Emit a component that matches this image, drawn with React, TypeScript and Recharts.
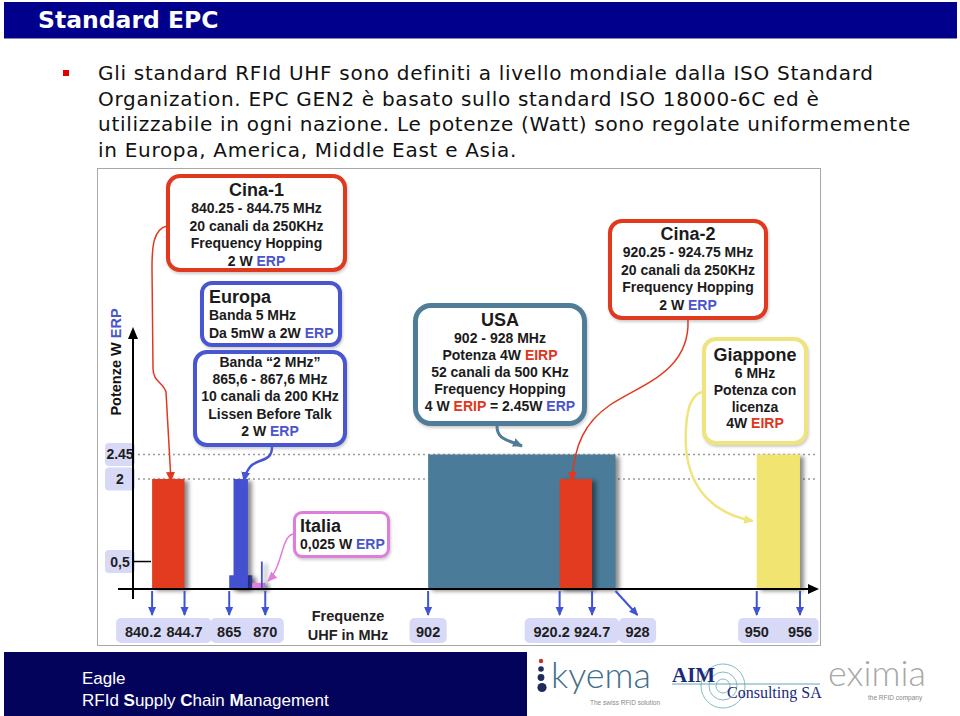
import React from "react";
import { ComposedChart, Area, XAxis, YAxis, CartesianGrid } from "recharts";

// frequency bands: start / end in MHz, power in W ERP (as drawn)
const BAND_NAMES = ["USA", "Cina-2", "Cina-1", "Europa 5 MHz", "Europa LBT", "Italia", "Europa 869.4", "Giappone"];
const BAND_START = [902, 920.25, 840.25, 865, 865.6, 868.2, 869.4, 950];
const BAND_END = [928, 924.75, 844.75, 868.2, 867.6, 870, 869.65, 956];
const BAND_POWER = [2.45, 2, 2, 0.25, 2, 0.11, 0.5, 2.45];

const FREQ_TICKS = [840.25, 844.75, 865, 870, 902, 920.25, 924.75, 928, 950, 956];
const FREQ_TICK_LABELS = ["840.2", "844.7", "865", "870", "902", "920.2", "924.7", "928", "950", "956"];
const FREQ_TICK_GROUP = [0, 0, 1, 1, 2, 3, 3, 4, 5, 5];

const POWER_TICKS = [0.5, 2, 2.45];
const POWER_TICK_LABELS = ["0,5", "2", "2.45"];
const POWER_GRID = [2, 2.45];

const BAND_COLORS: Record<string, string> = {
  USA: "#4a7b98",
  "Cina-2": "#e23b1f",
  "Cina-1": "#e23b1f",
  "Europa 5 MHz": "#4351d0",
  "Europa LBT": "#4351d0",
  Italia: "#e47de0",
  "Europa 869.4": "#4351d0",
  Giappone: "#f1e470",
};

// broken frequency axis: empty stretches are squeezed
const AXIS_BREAKS = [
  { from: 844.75, to: 865, span: 6.2 },
  { from: 870, to: 902, span: 22.6 },
  { from: 928, to: 950, span: 19.6 },
];
const toAxis = (f: number) => {
  let shift = 0;
  for (const b of AXIS_BREAKS) {
    const len = b.to - b.from;
    if (f >= b.to) shift += len - b.span;
    else if (f > b.from) shift += (f - b.from) * (1 - b.span / len);
  }
  return f - shift;
};
const X_DOMAIN = [toAxis(837.6), toAxis(958.5)];

const CHART_W = 722;
const CHART_H = 476;
const Y_AXIS_W = 35;
const X_AXIS_H = 56;
const MARGIN = { top: 159, right: 2, bottom: 0, left: 0 };
const PLOT_W = CHART_W - Y_AXIS_W - MARGIN.right;
const BASE_Y = CHART_H - X_AXIS_H;
const PX_PER_UNIT = PLOT_W / (X_DOMAIN[1] - X_DOMAIN[0]);

const LAVENDER = "#d7d9f6";
const TICK_BLUE = "#3f53d6";
const ERP_BLUE = "#4a55cc";
const EIRP_RED = "#e0341c";
const SANS = '"Liberation Sans", Arial, Helvetica, sans-serif';
const VERDANA = '"DejaVu Sans", Verdana, sans-serif';

const LABEL_NUDGE: Record<string, number> = { "840.2": -9, "920.2": -8, "928": 22 };
const halfWidth = (s: string) => s.length * 4.2 + 6;

const FreqTick = (props: any) => {
  const { x, index } = props;
  const label = FREQ_TICK_LABELS[index];
  const nudge = LABEL_NUDGE[label] ?? 0;
  const lx = x + nudge;
  const arrowX = nudge > 10 ? lx : x;
  const group = FREQ_TICK_GROUP[index];
  let box = null;
  if (FREQ_TICK_GROUP.indexOf(group) === index) {
    const last = FREQ_TICK_GROUP.lastIndexOf(group);
    const lastLabel = FREQ_TICK_LABELS[last];
    const lastX = x + (toAxis(FREQ_TICKS[last]) - toAxis(FREQ_TICKS[index])) * PX_PER_UNIT + (LABEL_NUDGE[lastLabel] ?? 0);
    const x0 = lx - halfWidth(label);
    const x1 = lastX + halfWidth(lastLabel);
    box = <rect x={x0} y={BASE_Y + 29} width={x1 - x0} height={25} rx={5} fill={LAVENDER} />;
  }
  return (
    <g>
      <line x1={x} y1={BASE_Y + 2} x2={arrowX} y2={BASE_Y + 26} stroke={TICK_BLUE} strokeWidth={2} markerEnd="url(#tickArrow)" />
      {box}
      <text x={lx} y={BASE_Y + 48} textAnchor="middle" fontFamily={SANS} fontWeight={700} fontSize={14.5} fill="#1e1e1e">
        {label}
      </text>
    </g>
  );
};

const PowerTick = (props: any) => {
  const { y, index } = props;
  const value = POWER_TICKS[index];
  return (
    <g>
      <rect x={7} y={y - 11.5} width={30} height={23} rx={4} fill={LAVENDER} />
      <text x={22} y={y + 5} textAnchor="middle" fontFamily={SANS} fontWeight={700} fontSize={14} fill="#1e1e1e">
        {POWER_TICK_LABELS[index]}
      </text>
      {value === 0.5 && <line x1={Y_AXIS_W} y1={y} x2={Y_AXIS_W + 18} y2={y} stroke="#000" strokeWidth={1.5} />}
    </g>
  );
};

const bands = BAND_NAMES.map((name, i) => ({
  name,
  data: [
    { x: toAxis(BAND_START[i]), p: BAND_POWER[i] },
    { x: toAxis(BAND_END[i]), p: BAND_POWER[i] },
  ],
}));

const Erp = () => <span style={{ color: ERP_BLUE }}>ERP</span>;
const Red = ({ t }: { t: string }) => <span style={{ color: EIRP_RED }}>{t}</span>;

const Callout = (p: {
  left: number; top: number; width: number; height: number; color: string; border: number; radius: number;
  padTop: number; padLeft?: number; align?: "left" | "center"; children: React.ReactNode;
}) => (
  <div
    style={{
      position: "absolute", left: p.left, top: p.top, width: p.width, height: p.height, boxSizing: "border-box",
      border: `${p.border}px solid ${p.color}`, borderRadius: p.radius, background: "#fff",
      textAlign: p.align ?? "center", paddingTop: p.padTop, paddingLeft: p.padLeft ?? 0,
      fontFamily: SANS, fontWeight: 700, color: "#1b1b1b", whiteSpace: "nowrap",
      boxShadow: "1px 2px 3px rgba(0,0,0,0.2)",
    }}
  >
    {p.children}
  </div>
);

const Title = ({ children }: { children: React.ReactNode }) => (
  <div style={{ fontSize: 18, lineHeight: "20px" }}>{children}</div>
);
const Line = ({ lh = 17.5, children }: { lh?: number; children: React.ReactNode }) => (
  <div style={{ fontSize: 14, lineHeight: `${lh}px` }}>{children}</div>
);

const BULLET_LINES = [
  "Gli standard RFId UHF sono definiti a livello mondiale dalla ISO Standard",
  "Organization. EPC GEN2 è basato sullo standard ISO 18000-6C ed è",
  "utilizzabile in ogni nazione. Le potenze (Watt) sono regolate uniformemente",
  "in Europa, America, Middle East e Asia.",
];

const ArrowMarker = ({ id, color }: { id: string; color: string }) => (
  <marker id={id} viewBox="0 0 10 10" refX={9} refY={5} markerWidth={10} markerHeight={10} markerUnits="userSpaceOnUse" orient="auto">
    <path d="M0,0.5 L10,5 L0,9.5 z" fill={color} />
  </marker>
);

export default function App() {
  return (
    <div style={{ position: "absolute", left: 0, top: 0, width: 960, height: 716, background: "#fff", overflow: "hidden" }}>
      <style>{`.band{filter:drop-shadow(4px 2px 2px rgba(0,0,0,0.45));}`}</style>

      {/* title bar */}
      <div style={{ position: "absolute", left: 4, top: 2, width: 953, height: 36, background: "#00008c", borderBottom: "1px solid #8888aa" }}>
        <div style={{ position: "absolute", left: 34, top: 4, color: "#fff", fontFamily: VERDANA, fontWeight: 700, fontSize: 23.5 }}>
          Standard EPC
        </div>
      </div>

      {/* bullet text */}
      <div style={{ position: "absolute", left: 63, top: 70, width: 6, height: 6, background: "#e00000" }} />
      <div style={{ position: "absolute", left: 98, top: 61, fontFamily: VERDANA, fontSize: 20, letterSpacing: 0.7, lineHeight: "25.5px", color: "#111", whiteSpace: "nowrap" }}>
        {BULLET_LINES.map((l) => (
          <div key={l}>{l}</div>
        ))}
      </div>

      {/* picture frame with chart */}
      <div style={{ position: "absolute", left: 98, top: 169, width: CHART_W, height: CHART_H, outline: "1px solid #a8a8a8" }}>
        <ComposedChart width={CHART_W} height={CHART_H} margin={MARGIN}>
          <defs>
            <marker id="tickArrow" viewBox="0 0 10 10" refX={9} refY={5} markerWidth={9} markerHeight={9} markerUnits="userSpaceOnUse" orient="auto">
              <path d="M0,0.5 L10,5 L0,9.5 z" fill={TICK_BLUE} />
            </marker>
          </defs>
          <CartesianGrid vertical={false} horizontalValues={POWER_GRID} stroke="#9a9a9a" strokeDasharray="2 3" strokeWidth={1.5} />
          <XAxis
            dataKey="x"
            type="number"
            domain={X_DOMAIN}
            ticks={FREQ_TICKS.map(toAxis)}
            interval={0}
            height={X_AXIS_H}
            axisLine={false}
            tickLine={false}
            allowDataOverflow
            tick={(p: any) => <FreqTick {...p} />}
          />
          <YAxis
            type="number"
            domain={[0, 4.75]}
            ticks={POWER_TICKS}
            interval={0}
            width={Y_AXIS_W}
            axisLine={false}
            tickLine={false}
            allowDataOverflow
            tick={(p: any) => <PowerTick {...p} />}
          />
          {bands.map((b) => (
            <Area
              key={b.name}
              name={b.name}
              data={b.data}
              dataKey="p"
              type="linear"
              baseValue={0}
              fill={BAND_COLORS[b.name]}
              fillOpacity={1}
              stroke="none"
              strokeWidth={0}
              dot={false}
              activeDot={false}
              className="band"
              isAnimationActive={false}
            />
          ))}
        </ComposedChart>
      </div>

      {/* callouts */}
      <Callout left={166} top={174} width={181} height={98} color="#e1391e" border={4} radius={14} padTop={2}>
        <Title>Cina-1</Title>
        <Line>840.25 - 844.75 MHz</Line>
        <Line>20 canali da 250KHz</Line>
        <Line>Frequency Hopping</Line>
        <Line>2 W <Erp /></Line>
      </Callout>
      <Callout left={200} top={281} width={142} height={66} color="#4856d0" border={4} radius={12} padTop={2} padLeft={5} align="left">
        <Title>Europa</Title>
        <Line>Banda 5 MHz</Line>
        <Line>Da 5mW a 2W <Erp /></Line>
      </Callout>
      <Callout left={193} top={350} width={154} height={97} color="#4856d0" border={4} radius={14} padTop={0}>
        <Line lh={17.2}>Banda “2 MHz”</Line>
        <Line lh={17.2}>865,6 - 867,6 MHz</Line>
        <Line lh={17.2}>10 canali da 200 KHz</Line>
        <Line lh={17.2}>Lissen Before Talk</Line>
        <Line lh={17.2}>2 W <Erp /></Line>
      </Callout>
      <Callout left={293} top={511} width={97} height={47} color="#df7ddc" border={3} radius={9} padTop={2} padLeft={4} align="left">
        <Title>Italia</Title>
        <Line>0,025 W <Erp /></Line>
      </Callout>
      <Callout left={413} top={303} width={174} height={123} color="#4f7d98" border={5} radius={18} padTop={2}>
        <Title>USA</Title>
        <Line lh={17}>902 - 928 MHz</Line>
        <Line lh={17}>Potenza 4W <Red t="EIRP" /></Line>
        <Line lh={17}>52 canali da 500 KHz</Line>
        <Line lh={17}>Frequency Hopping</Line>
        <Line lh={17}>4 W <Red t="ERIP" /> = 2.45W <Erp /></Line>
      </Callout>
      <Callout left={608} top={219} width={160} height={101} color="#e1391e" border={4} radius={14} padTop={1}>
        <Title>Cina-2</Title>
        <Line>920.25 - 924.75 MHz</Line>
        <Line>20 canali da 250KHz</Line>
        <Line>Frequency Hopping</Line>
        <Line>2 W <Erp /></Line>
      </Callout>
      <Callout left={702} top={337} width={106} height={108} color="#efe47e" border={4} radius={14} padTop={4}>
        <Title>Giappone</Title>
        <Line lh={16.8}>6 MHz</Line>
        <Line lh={16.8}>Potenza con</Line>
        <Line lh={16.8}>licenza</Line>
        <Line lh={16.8}>4W <Red t="EIRP" /></Line>
      </Callout>

      {/* axis label */}
      <div style={{ position: "absolute", left: 298, top: 607, width: 100, textAlign: "center", fontFamily: SANS, fontWeight: 700, fontSize: 14.5, lineHeight: "19px", color: "#222" }}>
        Frequenze
        <br />
        UHF in MHz
      </div>

      {/* axes, connectors */}
      <svg width={960} height={716} style={{ position: "absolute", left: 0, top: 0, pointerEvents: "none" }}>
        <defs>
          <ArrowMarker id="aRed" color="#e1391e" />
          <ArrowMarker id="aBlue" color="#4856d0" />
          <ArrowMarker id="aPink" color="#df7ddc" />
          <ArrowMarker id="aTeal" color="#4f7d98" />
          <ArrowMarker id="aYellow" color="#efe47e" />
        </defs>
        <line x1={133} y1={599} x2={133} y2={338} stroke="#000" strokeWidth={2} />
        <polygon points="128,339 138,339 133,327" fill="#000" />
        <line x1={118} y1={589} x2={809} y2={589} stroke="#000" strokeWidth={2} />
        <polygon points="808,584 808,594 819,589" fill="#000" />
        <text transform="translate(121,362) rotate(-90)" textAnchor="middle" fontFamily={SANS} fontWeight={700} fontSize={14.5} fill="#111">
          Potenze W <tspan fill={ERP_BLUE}>ERP</tspan>
        </text>

        <path d="M167,226 C153,229 152,248 152,268 L153,368 C153,382 163,382 166,392 L171,481" fill="none" stroke="#e1391e" strokeWidth={1.5} markerEnd="url(#aRed)" />
        <path d="M272,447 C272,463 257,458 250,467 C246,472 245,476 244,481" fill="none" stroke="#4856d0" strokeWidth={2.5} markerEnd="url(#aBlue)" />
        <path d="M293,534 C281,537 283,566 268,581" fill="none" stroke="#df7ddc" strokeWidth={1.5} markerEnd="url(#aPink)" />
        <path d="M497,426 C497,440 508,440 522,446" fill="none" stroke="#4f7d98" strokeWidth={3} markerEnd="url(#aTeal)" />
        <path d="M688,320 C690,372 640,385 610,405 C585,422 574,445 572,481" fill="none" stroke="#e1391e" strokeWidth={1.5} markerEnd="url(#aRed)" />
        <path d="M702,392 C686,396 685,425 686,448 C690,495 720,515 753,521" fill="none" stroke="#efe47e" strokeWidth={2.5} markerEnd="url(#aYellow)" />
      </svg>

      {/* footer */}
      <div style={{ position: "absolute", left: 4, top: 652, width: 523, height: 64, background: "#03035c" }}>
        <div style={{ position: "absolute", left: 78, top: 16, color: "#fff", fontFamily: SANS, fontSize: 17, lineHeight: "22px" }}>
          <div>Eagle</div>
          <div>
            RFId <b>S</b>upply <b>C</b>hain <b>M</b>anagement
          </div>
        </div>
      </div>
      <svg width={433} height={68} style={{ position: "absolute", left: 527, top: 648 }}>
        <circle cx={14} cy={13} r={2.2} fill="#d42a2a" />
        <circle cx={14} cy={21} r={2.8} fill="#1f2b5c" />
        <circle cx={14} cy={29.5} r={3.4} fill="#1f2b5c" />
        <circle cx={15} cy={39.5} r={4.6} fill="#1f2b5c" />
        <text x={24} y={40} fontFamily="Lato, sans-serif" fontWeight={300} fontSize={36} fill="#416e88">kyema</text>
        <text x={63} y={57} fontFamily={SANS} fontSize={6.5} fill="#888">The swiss RFID solution</text>
        <circle cx={196} cy={38} r={7} fill="none" stroke="#86bcc0" strokeWidth={1} />
        <circle cx={196} cy={38} r={14} fill="none" stroke="#86bcc0" strokeWidth={1} />
        <circle cx={196} cy={38} r={22} fill="none" stroke="#86bcc0" strokeWidth={1} />
        <line x1={145} y1={36} x2={293} y2={36} stroke="#6aa6ab" strokeWidth={1} />
        <text x={145} y={34} fontFamily='"Liberation Serif", "Times New Roman", serif' fontWeight={700} fontSize={21} fill="#1c2a78">AIM</text>
        <text x={200} y={50} fontFamily='"Liberation Serif", "Times New Roman", serif' fontSize={16} fill="#1c2a78">Consulting SA</text>
        <text x={301} y={38} fontFamily="Lato, sans-serif" fontWeight={300} fontSize={36} fill="#a8a8a8">eximia</text>
        <text x={341} y={52} fontFamily={SANS} fontSize={6.5} fill="#888">the RFID company</text>
      </svg>
    </div>
  );
}
